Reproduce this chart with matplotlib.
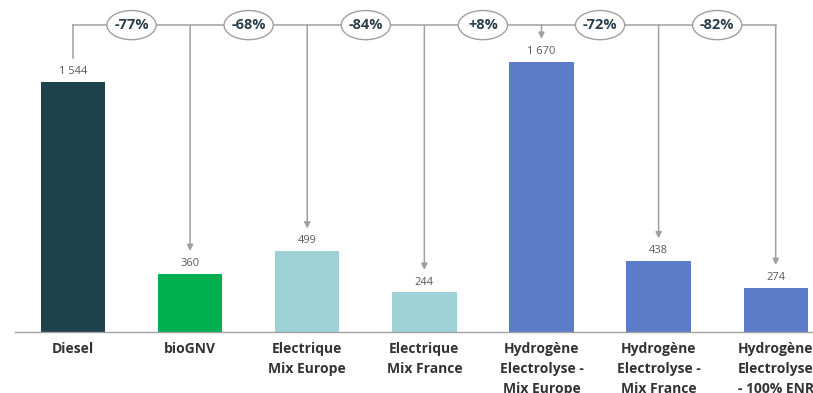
import matplotlib.pyplot as plt
from matplotlib.patches import Ellipse

# data
categories = ['Diesel', 'bioGNV', 'Electrique\nMix Europe', 'Electrique\nMix France',
              'Hydrogène\nElectrolyse -\nMix Europe', 'Hydrogène\nElectrolyse -\nMix France',
              'Hydrogène\nElectrolyse\n- 100% ENR']
values = [1544, 360, 499, 244, 1670, 438, 274]
value_labels = ['1 544', '360', '499', '244', '1 670', '438', '274']
pct_labels = ['-77%', '-68%', '-84%', '+8%', '-72%', '-82%']
colors = ['#1f434d', '#00b050', '#9ed1d6', '#9ed1d6', '#5b7cc9', '#5b7cc9', '#5b7cc9']

plt.rcParams['font.family'] = ['Open Sans', 'DejaVu Sans']

fig = plt.figure(figsize=(8.13, 3.93), dpi=100)
ax = fig.add_axes([15 / 813, 61 / 393, 831 / 813, 332 / 393])

x = list(range(len(values)))
ax.bar(x, values, width=0.55, color=colors, zorder=2)

ax.set_xlim(-0.495, 6.6)
ax.set_ylim(0, 2050)

for xi, v, lab in zip(x, values, value_labels):
    ax.text(xi, v + 30, lab, ha='center', va='bottom', fontsize=8, color='#595959')

# top connector line, all relative to diesel
line_c = '#a0a0a0'
top_y = 1895
ax.plot([x[0], x[-1]], [top_y, top_y], color=line_c, lw=1.1, zorder=1)
ax.plot([x[0], x[0]], [top_y, values[0] + 150], color=line_c, lw=1.1, zorder=1)
for xi, v in zip(x[1:], values[1:]):
    ax.annotate('', xy=(xi, v + 140), xytext=(xi, top_y),
                arrowprops=dict(arrowstyle='-|>', color=line_c, lw=1.1,
                                mutation_scale=9, shrinkA=0, shrinkB=0))

for i, p in enumerate(pct_labels):
    ax.add_patch(Ellipse((i + 0.5, top_y), 0.42, 180, fc='white', ec='#a0a0a0',
                         lw=1, zorder=3))
    ax.text(i + 0.5, top_y, p, ha='center', va='center', fontsize=10.5,
            fontweight='bold', color='#2b3f4b', zorder=4)

for s in ['top', 'right', 'left']:
    ax.spines[s].set_visible(False)
ax.spines['bottom'].set_color('#a0a0a0')
ax.spines['bottom'].set_linewidth(1)
ax.set_yticks([])
ax.set_xticks(x)
ax.set_xticklabels(categories, fontsize=10, fontweight='bold', color='#333333',
                   linespacing=1.55)
ax.tick_params(axis='x', length=0, pad=7)

fig.savefig('out.png', dpi=100)
